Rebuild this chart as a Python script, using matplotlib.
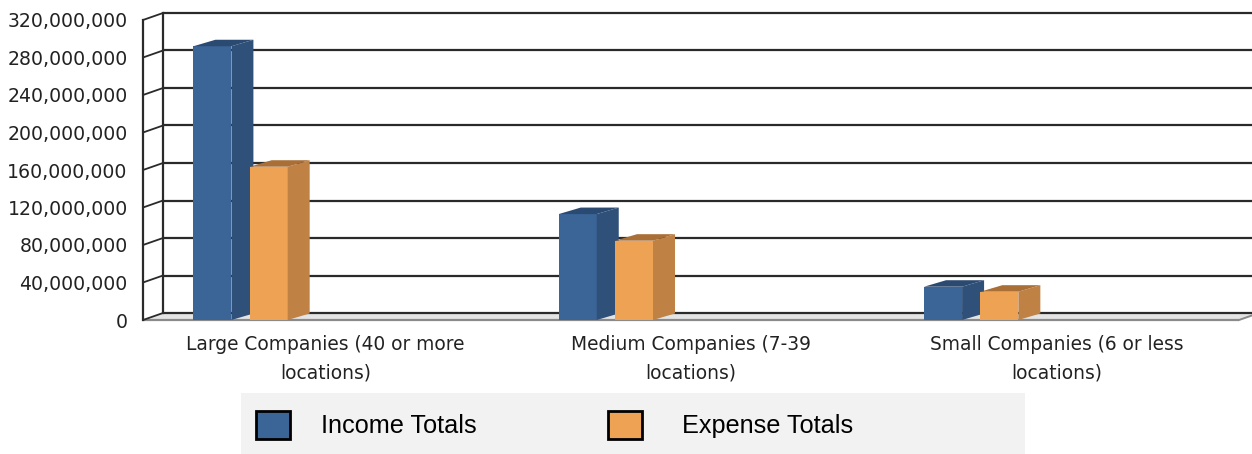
import matplotlib
matplotlib.use("Agg")
import matplotlib.pyplot as plt
from matplotlib.patches import Polygon, Patch, Rectangle
from matplotlib.ticker import FuncFormatter

# ---- data ----
categories = ["Large Companies (40 or more\nlocations)",
              "Medium Companies (7-39\nlocations)",
              "Small Companies (6 or less\nlocations)"]
series_names = ["Income Totals", "Expense Totals"]
income = [292e6, 113e6, 35.5e6]
expense = [163.5e6, 84.6e6, 30.2e6]
y_ticks = [0, 40e6, 80e6, 120e6, 160e6, 200e6, 240e6, 280e6, 320e6]

# ---- style ----
W, H, DPI = 1252, 454, 100
front_cols = ["#3b6497", "#eea253"]
side_cols = ["#2f5079", "#c08244"]
top_cols = ["#2b4a71", "#a96f37"]
grid_col = "#2a2a2a"

fig = plt.figure(figsize=(W / DPI, H / DPI), dpi=DPI)
ax_left, ax_right = 143, 1239
ax_top, ax_bot = 20, 320
ax = fig.add_axes([ax_left / W, (H - ax_bot) / H, (ax_right - ax_left) / W, (ax_bot - ax_top) / H])
ax.set_xlim(0, 3)
ax.set_ylim(0, 320e6)
for s in ax.spines.values():
    s.set_visible(False)
ax.patch.set_visible(False)

# depth in data units
wall_dx_px, wall_dy_px = 20, 7
bar_dx_px, bar_dy_px = 22, 6.5
px_x = 3 / (ax_right - ax_left)
px_y = 320e6 / (ax_bot - ax_top)
wdx, wdy = wall_dx_px * px_x, wall_dy_px * px_y
bdx, bdy = bar_dx_px * px_x, bar_dy_px * px_y
xr = 3 + 40 * px_x  # extend beyond figure edge

# floor slab
floor = Polygon([(0, 0), (3, 0), (3 + wdx, wdy), (xr, wdy), (xr, wdy), (wdx, wdy)],
                closed=True, facecolor="#e4e4e4", edgecolor="none", clip_on=False, zorder=1)
ax.add_patch(floor)
ax.plot([0, 3], [0, 0], color="#8a8a8a", lw=1.6, clip_on=False, zorder=1.5, solid_capstyle="butt")
ax.plot([3, 3 + wdx], [0, wdy], color="#8a8a8a", lw=1.4, clip_on=False, zorder=1.5)

# back wall grid + left wall diagonals
for v in y_ticks:
    ax.plot([wdx, xr], [v + wdy, v + wdy], color=grid_col, lw=1.6, clip_on=False, zorder=2,
            solid_capstyle="butt")
    ax.plot([0, wdx], [v, v + wdy], color=grid_col, lw=1.3, clip_on=False, zorder=2)
ax.plot([wdx, wdx], [wdy, 320e6 + wdy], color=grid_col, lw=1.6, clip_on=False, zorder=2)
ax.plot([0, 0], [0, 320e6], color=grid_col, lw=1.6, clip_on=False, zorder=2)

# bars
offsets = [0.19, 0.344]
width = 0.104
for si, vals in enumerate([income, expense]):
    for ci, v in enumerate(vals):
        xc = ci + offsets[si]
        x0, x1 = xc - width / 2, xc + width / 2
        ax.bar(xc, v, width=width, color=front_cols[si], edgecolor="none", zorder=3 + si * 2)
        side = Polygon([(x1, 0), (x1 + bdx, bdy), (x1 + bdx, v + bdy), (x1, v)], closed=True,
                       facecolor=side_cols[si], edgecolor="none", zorder=3 + si * 2)
        top = Polygon([(x0, v), (x1, v), (x1 + bdx, v + bdy), (x0 + bdx, v + bdy)], closed=True,
                      facecolor=top_cols[si], edgecolor="none", zorder=3 + si * 2)
        ax.add_patch(side)
        ax.add_patch(top)

# ticks
ax.set_yticks(y_ticks)
ax.yaxis.set_major_formatter(FuncFormatter(lambda v, p: f"{int(round(v)):,}"))
ax.tick_params(axis="y", length=0, pad=11, labelsize=13.6, labelcolor="#222222")
ax.set_xticks([0.5, 1.5, 2.5])
ax.set_xticklabels(categories, fontsize=13.4, color="#222222", linespacing=1.6)
ax.tick_params(axis="x", length=0, pad=11)
for lab in ax.get_yticklabels() + ax.get_xticklabels():
    lab.set_family("DejaVu Sans")

# legend
fig.patches.append(Rectangle((241 / W, 0), (1025 - 241) / W, 61 / H, transform=fig.transFigure,
                             facecolor="#f2f2f2", edgecolor="none", zorder=0))
leg_x = [256, 608]
leg_pad = [1.26, 1.6]
for i in range(2):
    h = Patch(facecolor=front_cols[i], edgecolor="black", linewidth=2, label=series_names[i])
    fig.legend(handles=[h], loc="center left", bbox_to_anchor=(leg_x[i] / W, (H - 425) / H),
               frameon=False, borderpad=0, borderaxespad=0,
               handlelength=1.33, handleheight=1.33, handletextpad=leg_pad[i],
               prop={"family": "Liberation Sans", "size": 18.2})

fig.savefig("out.png", dpi=DPI)
